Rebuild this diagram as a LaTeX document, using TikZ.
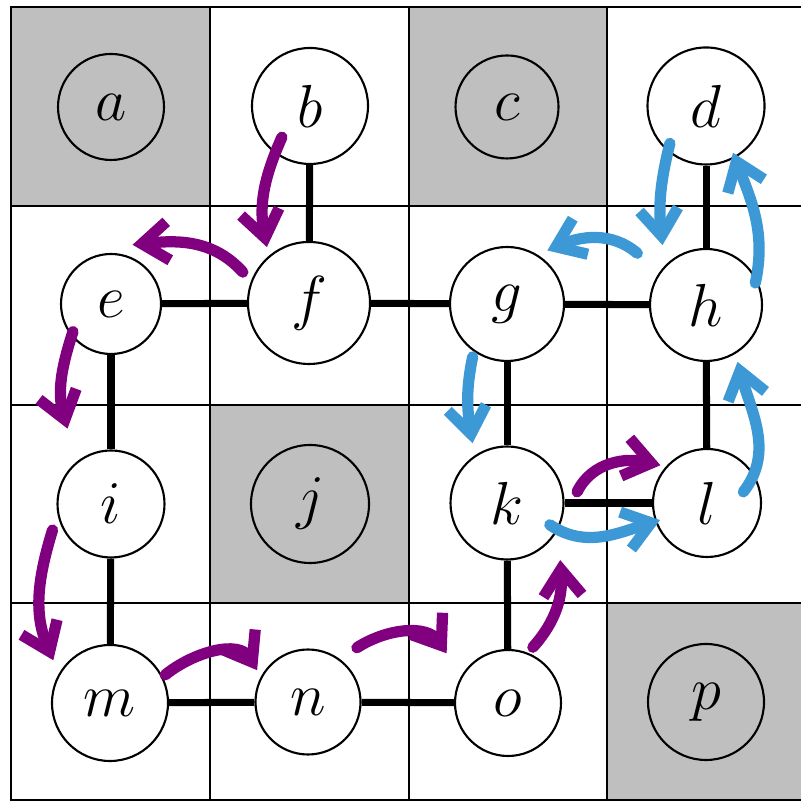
\documentclass[tikz,border=0pt]{standalone}
\usetikzlibrary{arrows.meta,calc}
\definecolor{walkpurple}{RGB}{128,0,128}
\definecolor{walkblue}{RGB}{61,152,214}
\definecolor{wallgray}{RGB}{191,191,191}

\begin{document}
\begin{tikzpicture}[
	cell/.style={circle, draw, line width=0.6pt, fill=white, inner sep=0pt, font=\fontsize{19}{22}\selectfont},
	wall/.style={cell, fill=wallgray},
	link/.style={line width=2pt},
	gridline/.style={line width=0.6pt},
	walk/.style={line width=3.2pt, line cap=round, line join=round, -{Straight Barb[length=7.5pt,width=11pt]}},
	purplewalk/.style={walk, walkpurple},
	bluewalk/.style={walk, walkblue}]
	\useasboundingbox (0,0) rectangle (8.01,8.01);
	% blocked squares
	\fill[wallgray] (0.11,5.95) rectangle (2.10,7.94);
	\fill[wallgray] (4.09,5.95) rectangle (6.07,7.94);
	\fill[wallgray] (2.10,1.98) rectangle (4.09,3.96);
	\fill[wallgray] (6.07,0.01) rectangle (8.06,1.98);
	% the board
	\draw[gridline] (0.11,0.01) rectangle (8.06,7.94);
	\foreach \x in {2.10,4.09,6.07}
	    \draw[gridline] (\x,0.01) -- (\x,7.94);
	\foreach \y in {1.98,3.96,5.95}
	    \draw[gridline] (0.11,\y) -- (8.06,\y);
	% squares
	\node[wall, minimum size=1.06cm] (a) at (1.11,6.94) {$a$};
	\node[cell, minimum size=1.16cm] (b) at (3.10,6.95) {$b$};
	\node[wall, minimum size=1.03cm] (c) at (5.07,6.94) {$c$};
	\node[cell, minimum size=1.17cm] (d) at (7.06,6.95) {$d$};
	\node[cell, minimum size=1.00cm] (e) at (1.11,4.97) {$e$};
	\node[cell, minimum size=1.22cm] (f) at (3.09,4.98) {$f$};
	\node[cell, minimum size=1.14cm] (g) at (5.07,4.97) {$g$};
	\node[cell, minimum size=1.12cm] (h) at (7.06,4.96) {$h$};
	\node[cell, minimum size=1.07cm] (i) at (1.11,2.97) {$i$};
	\node[wall, minimum size=1.18cm] (j) at (3.10,2.97) {$j$};
	\node[cell, minimum size=1.13cm] (k) at (5.07,2.98) {$k$};
	\node[cell, minimum size=1.08cm] (l) at (7.07,2.98) {$l$};
	\node[cell, minimum size=1.16cm] (m) at (1.10,0.98) {$m$};
	\node[cell, minimum size=1.05cm] (n) at (3.08,0.99) {$n$};
	\node[cell, minimum size=1.06cm] (o) at (5.08,0.98) {$o$};
	\node[wall, minimum size=1.16cm] (p) at (7.06,0.99) {$p$};
	% open passages
	\draw[link] (b) -- (f);
	\draw[link] (e) -- (f);
	\draw[link] (f) -- (g);
	\draw[link] (g) -- (h);
	\draw[link] (d) -- (h);
	\draw[link] (e) -- (i);
	\draw[link] (i) -- (m);
	\draw[link] (g) -- (k);
	\draw[link] (h) -- (l);
	\draw[link] (k) -- (l);
	\draw[link] (k) -- (o);
	\draw[link] (m) -- (n);
	\draw[link] (n) -- (o);
	% first walk
	\draw[purplewalk] ($(b)+(228:0.42)$) to[out=246,in=101] ($(f)+(127:0.70)$);
	\draw[purplewalk] ($(f)+(155:0.73)$) to[out=132,in=6] ($(e)+(70:0.63)$);
	\draw[purplewalk] ($(e)+(216:0.47)$) to[out=252,in=106] ($(i)+(120:0.87)$);
	\draw[purplewalk] ($(i)+(204:0.64)$) to[out=253,in=113] ($(m)+(143:0.71)$);
	\draw[purplewalk] ($(m)+(27:0.62)$) to[out=39,in=121] ($(n)+(148:0.60)$);
	\draw[purplewalk] ($(n)+(48:0.73)$) to[out=33,in=124] ($(o)+(141:0.79)$);
	\draw[purplewalk] ($(o)+(66:0.61)$) to[out=48,in=274] ($(k)+(313:0.78)$);
	\draw[purplewalk] ($(k)+(9:0.71)$) to[out=64,in=167] ($(l)+(141:0.60)$);
	% second walk
	\draw[bluewalk] ($(d)+(226:0.52)$) to[out=256,in=96] ($(h)+(126:0.74)$);
	\draw[bluewalk] ($(h)+(143:0.86)$) to[out=140,in=23] ($(g)+(53:0.67)$);
	\draw[bluewalk] ($(h)+(24:0.54)$) to[out=78,in=291] ($(d)+(300:0.54)$);
	\draw[bluewalk] ($(g)+(237:0.63)$) to[out=258,in=99] ($(k)+(120:0.69)$);
	\draw[bluewalk] ($(k)+(333:0.48)$) to[out=326,in=197] ($(l)+(200:0.50)$);
	\draw[bluewalk] ($(l)+(17:0.38)$) to[out=52,in=285] ($(h)+(299:0.65)$);
\end{tikzpicture}
\end{document}
